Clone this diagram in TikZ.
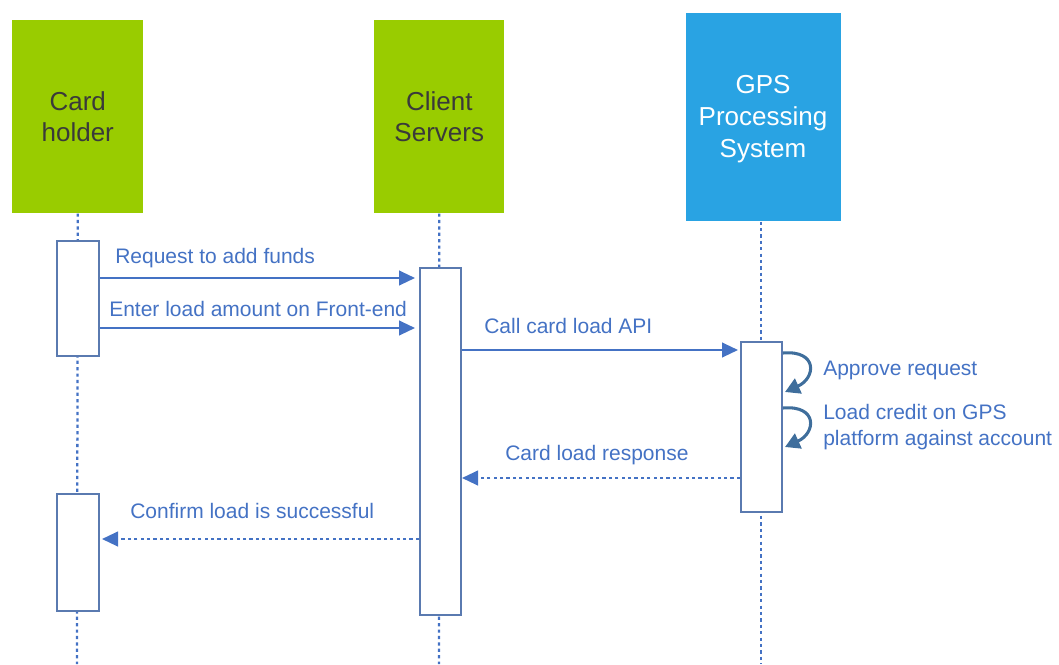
\documentclass[tikz,border=0pt]{standalone}
\usepackage{fontspec}
\setmainfont{Liberation Sans}
\usetikzlibrary{arrows.meta}
\definecolor{lgreen}{HTML}{99CC00}
\definecolor{gblue}{HTML}{29A3E3}
\definecolor{ablue}{HTML}{4472C4}
\definecolor{bedge}{HTML}{5A7AB0}
\definecolor{sblue}{HTML}{3F6E9C}
\definecolor{htext}{HTML}{3A3A3A}
\begin{document}
\begin{tikzpicture}[x=0.75pt,y=-0.75pt,
  head/.style={anchor=north west, inner sep=0, align=center, text=htext,
    font=\fontsize{19.5}{23.5}\selectfont},
  act/.style={draw=bedge, line width=1.5pt, fill=white, anchor=north west, inner sep=0},
  life/.style={draw=ablue, line width=1.7pt, dash pattern=on 2.4pt off 2.4pt},
  msg/.style={draw=ablue, line width=1.6pt, -{Triangle[length=12pt,width=11pt]}},
  ret/.style={msg, dash pattern=on 2.4pt off 2.4pt},
  lbl/.style={anchor=west, text=ablue, inner sep=0, align=left,
    font=\fontsize{15.75}{19.5}\selectfont},
  selfmsg/.style={draw=sblue, line width=2.3pt, -{Triangle[length=11pt,width=12pt]}}]
\useasboundingbox (0,0) rectangle (1059,664);
% headers
\node[head, fill=lgreen, minimum width=98.25pt, minimum height=144.75pt] (ch) at (12,20) {Card\\holder};
\node[head, fill=lgreen, minimum width=97.5pt, minimum height=144.75pt] (cs) at (374,20) {Client\\Servers};
\node[head, fill=gblue, text=white, minimum width=116.25pt, minimum height=156pt,
  font=\fontsize{19.5}{24}\selectfont] (gp) at (686,13) {};
\node[text=white, align=center, inner sep=0, font=\fontsize{19.5}{24}\selectfont] (gpt) at (763,119) {GPS\\Processing\\System};
% lifeline ends
\coordinate (chend) at (77,664);
\coordinate (csend) at (439,664);
\coordinate (gpend) at (761,664);
\draw[life] (ch.south) -- (chend);
\draw[life] (cs.south) -- (csend);
\draw[life] (gp.south -| gpend) -- (gpend);
% activation boxes
\node[act, minimum width=31.5pt, minimum height=86.25pt] (ch1) at (56,240) {};
\node[act, minimum width=31.5pt, minimum height=87.75pt] (ch2) at (56,493) {};
\node[act, minimum width=30.75pt, minimum height=260.25pt] (csa) at (419,267) {};
\node[act, minimum width=30.75pt, minimum height=127.5pt] (gpa) at (740,341) {};
% messages
\draw[msg, shorten >=3pt] (ch1.east |- 0,278) -- (csa.west |- 0,278);
\draw[msg, shorten >=3pt] (ch1.east |- 0,328) -- (csa.west |- 0,328);
\draw[msg, shorten >=1.5pt] (csa.east |- 0,350) -- (gpa.west |- 0,350);
\draw[ret] (gpa.west |- 0,478) -- (csa.east |- 0,478);
\draw[ret, shorten >=1.5pt] (csa.west |- 0,539) -- (ch2.east |- 0,539);
% self messages
\draw[selfmsg] (gpa.east |- 0,353) .. controls (818,350) and (816,378) .. ([xshift=1.5pt]gpa.east |- 0,392);
\draw[selfmsg] (gpa.east |- 0,408) .. controls (818,405) and (816,433) .. ([xshift=1.5pt]gpa.east |- 0,447);
% labels
\node[lbl] (l1) at (115,258) {Request to add funds};
\node[lbl] (l2) at (109,309) {Enter load amount on Front-end};
\node[lbl] (l3) at (484,326) {Call card load API};
\node[lbl] (l4) at (505,455) {Card load response};
\node[lbl] (l5) at (130,511) {Confirm load is successful};
\node[lbl] (l6) at (823,370) {Approve request};
\node[lbl] (l7) at (823,427) {Load credit on GPS\\platform against account};
\end{tikzpicture}
\end{document}
